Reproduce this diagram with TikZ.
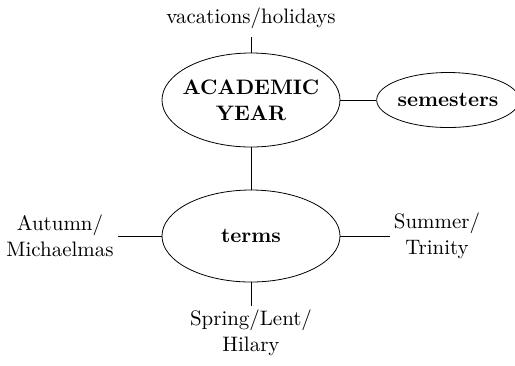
\documentclass[tikz,border=0pt]{standalone}
\usetikzlibrary{shapes.geometric}

\begin{document}
\begin{tikzpicture}[x=0.5bp, y=-0.5bp,
  every node/.style={font=\fontsize{10.5}{13}\selectfont},
  oval/.style={draw, ellipse, inner sep=0pt, font=\fontsize{10.5}{13}\selectfont\bfseries, align=center},
  lbl/.style={align=center, inner sep=2pt}]
\useasboundingbox (0,0) rectangle (515,365);
% ovals
\node[oval, inner xsep=-3.5bp, minimum width=89bp, minimum height=47bp] (year) at (251,100) {ACADEMIC\\YEAR};
\node[oval, minimum width=65bp, minimum height=27.5bp] (sem) at (448,100) {semesters};
\node[oval, minimum width=89bp, minimum height=46bp] (terms) at (251,236) {terms};
% labels
\node[lbl, inner sep=4bp] (vac) at (251,18) {vacations/holidays};
\node[lbl] (aut) at (60,236) {Autumn/\\Michaelmas};
\node[lbl] (sum) at (437,236) {Summer/\\Trinity};
\node[lbl] (spr) at (251,333) {Spring/Lent/\\Hilary};
% links
\draw (vac) -- (year);
\draw (year.east) -- (sem.west);
\draw (year) -- (terms);
\draw (aut.east) -- (terms.west);
\draw (terms.east) -- (sum.west);
\draw (terms) -- (spr);
\end{tikzpicture}
\end{document}
